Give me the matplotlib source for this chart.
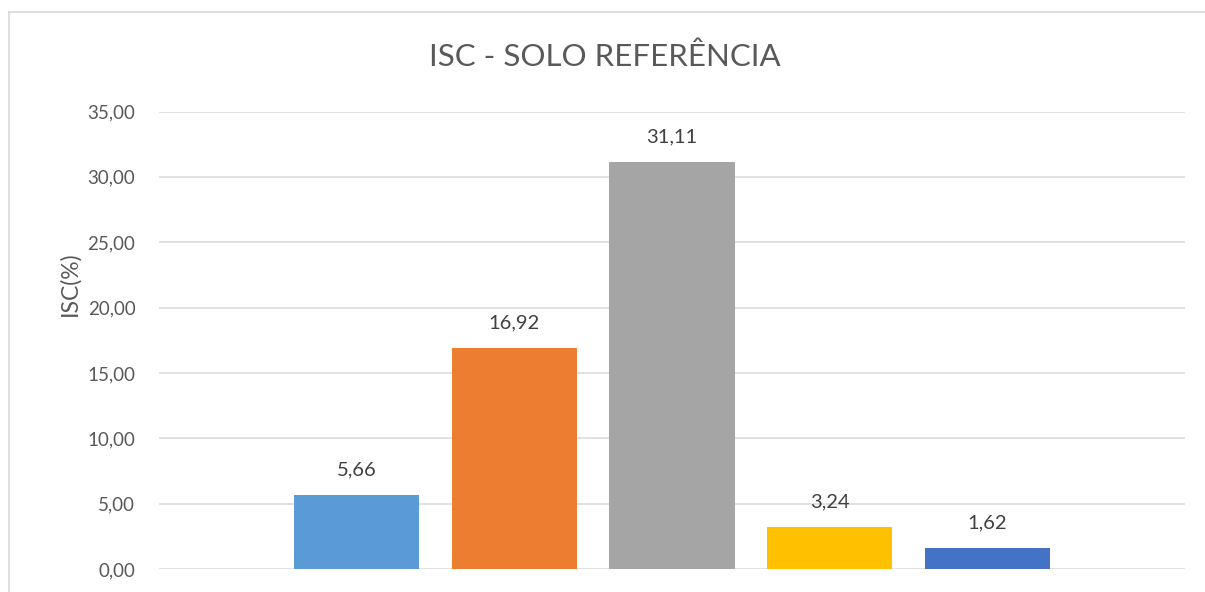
import matplotlib
matplotlib.use("Agg")
import matplotlib.pyplot as plt
from matplotlib.lines import Line2D
from matplotlib.ticker import FuncFormatter

plt.rcParams['font.family'] = ['Lato', 'DejaVu Sans']

title = "ISC - SOLO REFERÊNCIA"
ylabel = "ISC(%)"
series_values = [5.66, 16.92, 31.11, 3.24, 1.62]
series_colors = ["#5B9BD5", "#ED7D31", "#A5A5A5", "#FFC000", "#4472C4"]
y_ticks = [0, 5, 10, 15, 20, 25, 30, 35]

W, H = 1205, 592
fig = plt.figure(figsize=(W / 100, H / 100), dpi=100)
fig.patch.set_facecolor("white")

# chart area border (left and top edges only visible)
bx, by = 8.5 / W, 1 - 12 / H
fig.lines.append(Line2D([bx, bx], [0, by], transform=fig.transFigure,
                        color="#D9D9D9", linewidth=1.2))
fig.lines.append(Line2D([bx, 1], [by, by], transform=fig.transFigure,
                        color="#D9D9D9", linewidth=1.2))

ax = fig.add_axes([159 / W, (H - 569) / H, (1185 - 159) / W, (569 - 111.5) / H])
positions = list(range(len(series_values)))
bars = ax.bar(positions, series_values, width=0.793, color=series_colors, zorder=3)

ax.set_xlim(-1.253, len(series_values) - 1 + 1.253)
ax.set_ylim(0, 35)
ax.set_yticks(y_ticks)
ax.yaxis.set_major_formatter(FuncFormatter(lambda v, p: f"{v:.2f}".replace(".", ",")))
ax.set_xticks([])
ax.grid(axis="y", color="#D9D9D9", linewidth=1.1, zorder=0)
for s in ax.spines.values():
    s.set_visible(False)
ax.tick_params(axis="y", length=0, pad=17, labelsize=13.5, labelcolor="#595959")

for b, v in zip(bars, series_values):
    ax.annotate(f"{v:.2f}".replace(".", ","), (b.get_x() + b.get_width() / 2, v),
                xytext=(0, 18), textcoords="offset points", ha="center", va="center",
                fontsize=14.5, color="#404040")

fig.text(605 / W, 1 - 57 / H, title, ha="center", va="center", fontsize=22.5, color="#595959")
fig.text(70 / W, 1 - 284 / H, ylabel, ha="center", va="center", rotation=90,
         fontsize=16.5, color="#595959")

fig.savefig("out.png", dpi=100, facecolor="white")
